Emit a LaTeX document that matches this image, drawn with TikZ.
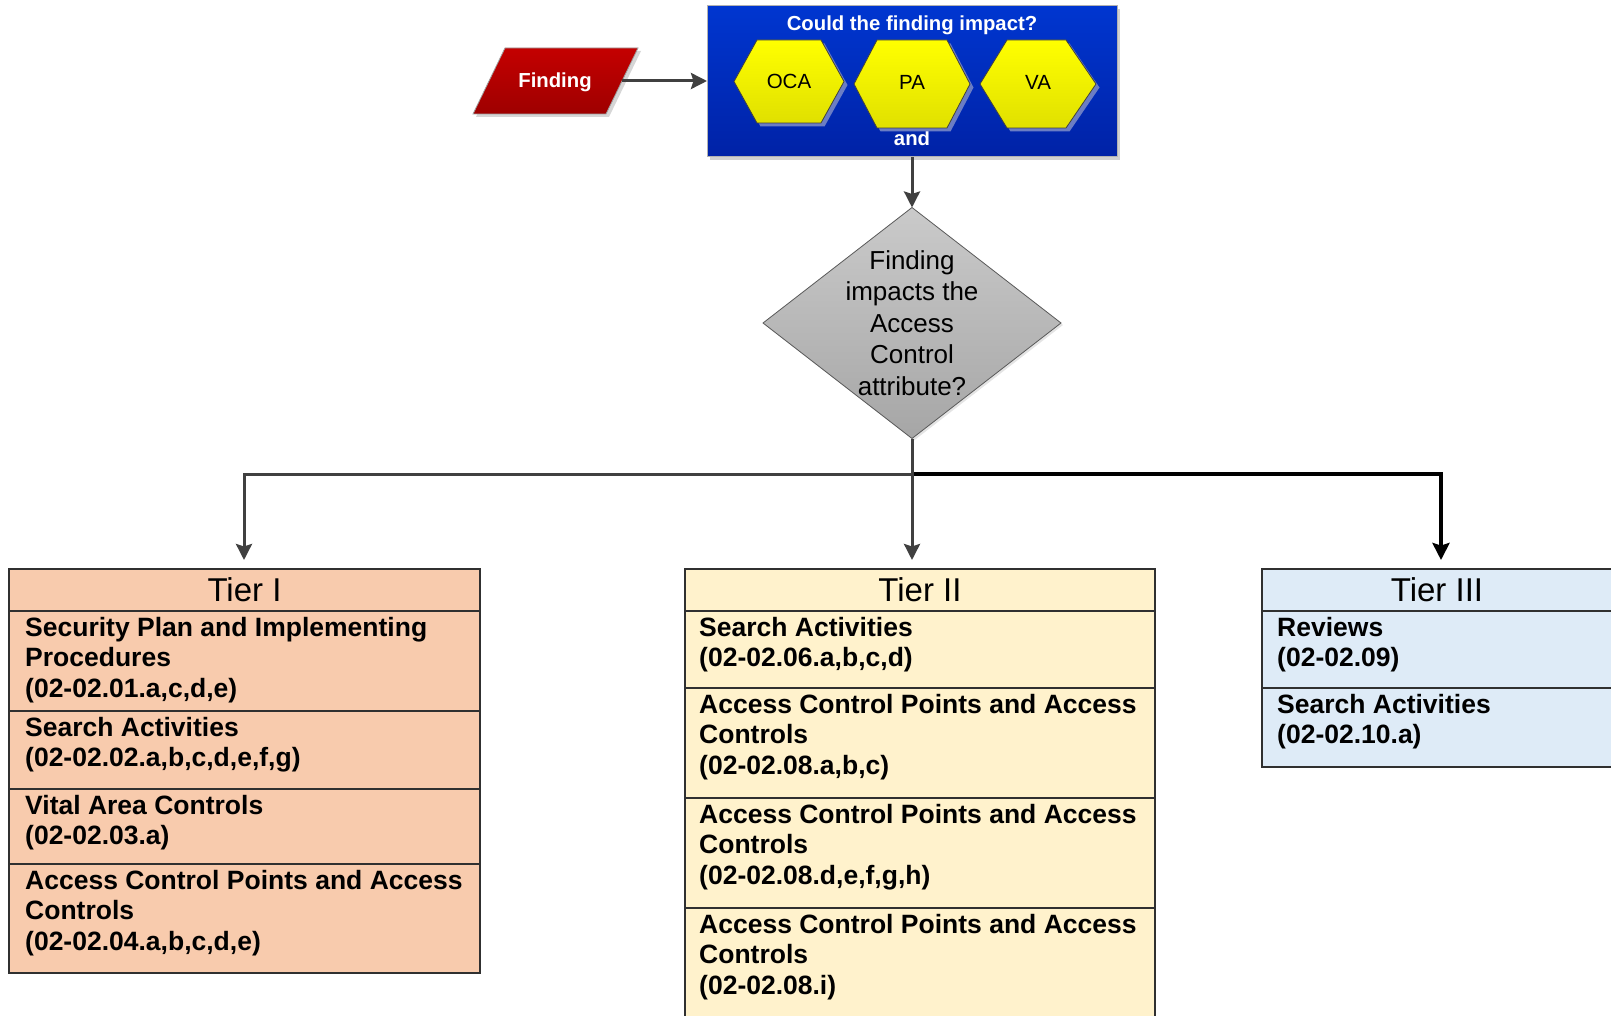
\documentclass[tikz,border=0pt]{standalone}
\usepackage{fontspec}
\setmainfont{Liberation Sans}
\usetikzlibrary{shapes.geometric,arrows.meta,shadows}

\definecolor{peach}{HTML}{F8CBAD}
\definecolor{cream}{HTML}{FFF2CC}
\definecolor{paleblue}{HTML}{DEEBF7}
\definecolor{linegray}{HTML}{404040}
\definecolor{edgegray}{HTML}{303030}
\definecolor{findtop}{HTML}{C40000}
\definecolor{findbot}{HTML}{9E0000}
\definecolor{bluetop}{HTML}{0036D0}
\definecolor{bluebot}{HTML}{0022A6}
\definecolor{hextop}{HTML}{FFFF00}
\definecolor{hexbot}{HTML}{E0E000}
\definecolor{hexshadow}{HTML}{6B7DC4}
\definecolor{dectop}{HTML}{CACACA}
\definecolor{decbot}{HTML}{A6A6A6}

\newcommand\rowfnt{\fontsize{26.5}{30.5}\selectfont\bfseries}
\newcommand\tierfnt{\fontsize{33}{38}\selectfont}
\newcommand\decfnt{\fontsize{26}{31.5}\selectfont}
\newcommand\hexfnt{\fontsize{20.5}{24}\selectfont}
\newcommand\whitefnt{\fontsize{20.3}{24}\selectfont\bfseries}

\begin{document}
\begin{tikzpicture}[x=1pt,y=-1pt,
  conn/.style={draw=linegray, line width=3pt,
    -{Stealth[length=16pt,width=16pt,inset=2.5pt]}},
  connk/.style={draw=black, line width=4pt,
    -{Stealth[length=17pt,width=17pt,inset=2.5pt]}},
  tierpart/.style={draw=edgegray, line width=1.5pt, inner sep=0pt,
    outer sep=0pt, anchor=north west},
  tierhead/.style={tierpart, minimum height=42pt, font=\tierfnt},
  rowtext/.style={anchor=north west, inner sep=0pt, align=left, font=\rowfnt},
  hexface/.style={draw=black!75, line width=0.8pt, top color=hextop,
    bottom color=hexbot},
  hexlabel/.style={anchor=base, inner sep=0pt, font=\hexfnt},
  whitelabel/.style={anchor=base, inner sep=0pt, font=\whitefnt, text=white},
]
\useasboundingbox (0,0) rectangle (1611,1016);
\clip (0,0) rectangle (1611,1016);

% ---------- Finding input (parallelogram) ----------
\path[draw=gray!75, line width=0.8pt, top color=findtop, bottom color=findbot,
      drop shadow={shadow xshift=3pt, shadow yshift=-3pt, fill=gray!40, opacity=0.8}]
      (473,114) -- (505,48) -- (638,48) -- (606,114) -- cycle;
\node[whitelabel] (fin) at (555,88) {Finding};
\coordinate (finout) at (622,81);

% ---------- question panel ----------
\node[draw=gray!60, line width=1pt, minimum width=410pt, minimum height=151pt,
      inner sep=0pt, outer sep=0pt, top color=bluetop, bottom color=bluebot,
      drop shadow={shadow xshift=3pt, shadow yshift=-3pt, fill=gray!45, opacity=0.8}]
      (qbox) at (912,81.5) {};
\node[whitelabel] (qtitle) at (912,31) {Could the finding impact?};
\node[whitelabel] (qand) at (912,146) {and};

% hexagon OCA
\begin{scope}[shift={(789,81.5)}]
  \fill[hexshadow] (-51.5,3.5) -- (-28.5,-38) -- (35.5,-38) -- (58.5,3.5)
       -- (35.5,45) -- (-28.5,45) -- cycle;
  \path[hexface] (-55,0) -- (-32,-41.5) -- (32,-41.5) -- (55,0)
       -- (32,41.5) -- (-32,41.5) -- cycle;
  \node[hexlabel] (oca) at (0,7.5) {OCA};
\end{scope}
% hexagon PA
\begin{scope}[shift={(912,84)}]
  \fill[hexshadow] (-54.5,3.5) -- (-31.5,-40.5) -- (38.5,-40.5) -- (61.5,3.5)
       -- (38.5,47.5) -- (-31.5,47.5) -- cycle;
  \path[hexface] (-58,0) -- (-35,-44) -- (35,-44) -- (58,0)
       -- (35,44) -- (-35,44) -- cycle;
  \node[hexlabel] (pa) at (0,6) {PA};
\end{scope}
% hexagon VA
\begin{scope}[shift={(1038,84)}]
  \fill[hexshadow] (-54.5,3.5) -- (-27.5,-40.5) -- (31.5,-40.5) -- (61.5,3.5)
       -- (31.5,47.5) -- (-27.5,47.5) -- cycle;
  \path[hexface] (-58,0) -- (-31,-44) -- (28,-44) -- (58,0)
       -- (28,44) -- (-31,44) -- cycle;
  \node[hexlabel] (va) at (0,6) {VA};
\end{scope}

% ---------- decision ----------
\node[diamond, minimum width=298pt, minimum height=231pt, inner sep=0pt,
      outer sep=0pt, draw=black!65, line width=0.8pt,
      top color=dectop, bottom color=decbot,
      drop shadow={shadow xshift=2pt, shadow yshift=-2pt, fill=gray!30, opacity=0.7}]
      (dec) at (912,323) {};
\node[align=center, inner sep=0pt, font=\decfnt] (dectxt) at (dec.center)
      {Finding\\impacts the\\Access\\Control\\attribute?};

% ---------- Tier I ----------
\node[tierhead, fill=peach, minimum width=471pt] (t1h) at (9,569) {Tier I};
\node[tierpart, fill=peach, minimum width=471pt, minimum height=100pt] (t1a) at (9,611) {};
\node[tierpart, fill=peach, minimum width=471pt, minimum height=78pt] (t1b) at (9,711) {};
\node[tierpart, fill=peach, minimum width=471pt, minimum height=75pt] (t1c) at (9,789) {};
\node[tierpart, fill=peach, minimum width=471pt, minimum height=109pt] (t1d) at (9,864) {};
\node[rowtext] (t1atx) at ([xshift=16pt,yshift=-6pt]t1a.north west)
  {Security Plan and Implementing\\Procedures\\(02-02.01.a,c,d,e)};
\node[rowtext] (t1btx) at ([xshift=16pt,yshift=-6pt]t1b.north west)
  {Search Activities\\(02-02.02.a,b,c,d,e,f,g)};
\node[rowtext] (t1ctx) at ([xshift=16pt,yshift=-6pt]t1c.north west)
  {Vital Area Controls\\(02-02.03.a)};
\node[rowtext] (t1dtx) at ([xshift=16pt,yshift=-6pt]t1d.north west)
  {Access Control Points and Access\\Controls\\(02-02.04.a,b,c,d,e)};

% ---------- Tier II ----------
\node[tierhead, fill=cream, minimum width=470pt] (t2h) at (685,569) {Tier II};
\node[tierpart, fill=cream, minimum width=470pt, minimum height=77pt] (t2a) at (685,611) {};
\node[tierpart, fill=cream, minimum width=470pt, minimum height=110pt] (t2b) at (685,688) {};
\node[tierpart, fill=cream, minimum width=470pt, minimum height=110pt] (t2c) at (685,798) {};
\node[tierpart, fill=cream, minimum width=470pt, minimum height=130pt] (t2d) at (685,908) {};
\node[rowtext] (t2atx) at ([xshift=14pt,yshift=-6pt]t2a.north west)
  {Search Activities\\(02-02.06.a,b,c,d)};
\node[rowtext] (t2btx) at ([xshift=14pt,yshift=-6pt]t2b.north west)
  {Access Control Points and Access\\Controls\\(02-02.08.a,b,c)};
\node[rowtext] (t2ctx) at ([xshift=14pt,yshift=-6pt]t2c.north west)
  {Access Control Points and Access\\Controls\\(02-02.08.d,e,f,g,h)};
\node[rowtext] (t2dtx) at ([xshift=14pt,yshift=-6pt]t2d.north west)
  {Access Control Points and Access\\Controls\\(02-02.08.i)};

% ---------- Tier III ----------
\node[tierhead, fill=paleblue, minimum width=350pt] (t3h) at (1262,569) {Tier III};
\node[tierpart, fill=paleblue, minimum width=350pt, minimum height=77pt] (t3a) at (1262,611) {};
\node[tierpart, fill=paleblue, minimum width=350pt, minimum height=79pt] (t3b) at (1262,688) {};
\node[rowtext] (t3atx) at ([xshift=15pt,yshift=-6pt]t3a.north west)
  {Reviews\\(02-02.09)};
\node[rowtext] (t3btx) at ([xshift=15pt,yshift=-6pt]t3b.north west)
  {Search Activities\\(02-02.10.a)};

% ---------- connectors ----------
\coordinate (hubrow) at (0,474);
\coordinate (hub) at (dec.south |- hubrow);
\coordinate (t1in) at (244,569);
\coordinate (t3in) at (1441,569);

\draw[conn] (finout) -- (finout -| qbox.west);
\draw[conn] (qbox.south) -- (dec.north);
\draw[connk, shorten >=9pt] (hub) -| (t3in);
\draw[conn, shorten >=9pt] (hub) -| (t1in);
\draw[conn, shorten >=9pt] (dec.south) -- (dec.south |- t2h.north);
\end{tikzpicture}
\end{document}
